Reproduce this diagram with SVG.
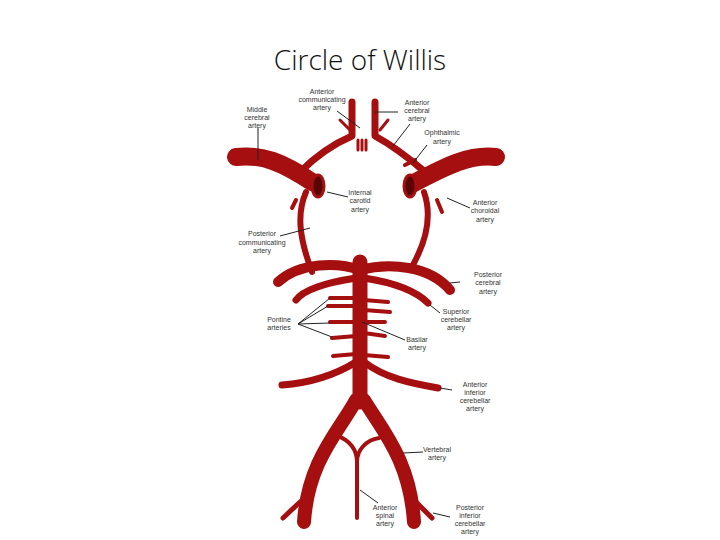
<svg xmlns="http://www.w3.org/2000/svg" width="720" height="540" viewBox="0 0 720 540">
<style>
.v{fill:none;stroke:#a50f0f;stroke-linecap:round;stroke-linejoin:round}
.l{fill:none;stroke:#222;stroke-width:1}
text{font-family:"Liberation Sans",Arial,sans-serif;font-size:7px;fill:#333;text-anchor:middle}
.t{font-family:"Open Sans","Liberation Sans",sans-serif;font-weight:300;font-size:28px;fill:#111}
</style>
<rect width="720" height="540" fill="#fff"/>
<text class="t" x="360" y="70">Circle of Willis</text>
<g id="vessels">
<path class="v" stroke-width="18" d="M236,157 C262,154 282,162 312,182"/>
<path class="v" stroke-width="18" d="M496,157 C470,154 448,165 412,184"/>
<path class="v" stroke-width="7" d="M300,172 C320,152 338,142 352,136 L352,102"/>
<path class="v" stroke-width="7" d="M425,172 C402,152 386,142 375,136 L375,102"/>
<path class="v" stroke-width="3" d="M340,120 L350,130 M388,120 L380,130 M358,140 L358,150 M362,140 L362,150 M366,140 L366,150"/>
<path class="v" stroke-width="4" d="M296,200 L292,208 M437,200 L442,212 M296,180 L305,172 M405,165 L415,160"/>
<ellipse cx="318" cy="186" rx="6" ry="11" fill="#5a0505" stroke="#a50f0f" stroke-width="3"/>
<ellipse cx="410" cy="186" rx="6" ry="11" fill="#5a0505" stroke="#a50f0f" stroke-width="3"/>
<path class="v" stroke-width="6" d="M312,272 C300,240 296,215 306,192"/>
<path class="v" stroke-width="6" d="M410,270 C428,240 432,215 424,192"/>
<path class="v" stroke-width="10" d="M360,270 C338,262 300,262 278,282"/>
<path class="v" stroke-width="10" d="M360,270 C390,262 430,266 450,290"/>
<path class="v" stroke-width="7" d="M356,278 C330,282 305,288 296,300"/>
<path class="v" stroke-width="7" d="M364,278 C390,282 415,290 428,303"/>
<path class="v" stroke-width="4" d="M356,298 L330,298 M356,306 L328,306 M356,322 L330,322 M356,336 L332,338 M356,354 L333,356"/>
<path class="v" stroke-width="4" d="M364,300 L388,302 M364,310 L390,312 M364,322 L385,322 M364,333 L385,336 M364,355 L388,357"/>
<path class="v" stroke-width="7" d="M356,362 C335,375 310,383 282,385"/>
<path class="v" stroke-width="7" d="M364,362 C385,378 410,383 438,388"/>
<path class="v" stroke-width="15" d="M360,262 L360,402"/>
<path class="v" stroke-width="14" d="M356,400 C340,430 308,460 304,522"/>
<path class="v" stroke-width="14" d="M364,400 C382,430 410,460 414,522"/>
<path class="v" stroke-width="4" d="M337,436 C350,440 357,450 357,462 L357,518 M379,438 C366,440 357,450 357,462"/>
<path class="v" stroke-width="5" d="M300,502 L283,518 M416,502 L432,518"/>
</g>
<g id="leaders">
<path class="l" d="M258,128 L258,160 M337,111 L360,128 M375,112 L398,112 M393,146 L410,124 M413,163 L427,145 M327,192 L348,197 M447,198 L470,208 M280,236 L310,228 M450,283 L460,282 M298,324 L330,298 M298,324 L328,306 M298,324 L330,323 M298,324 L332,337 M430,305 L440,313 M362,322 L405,340 M440,388 L452,390 M403,453 L423,452 M360,490 L378,503 M433,513 L450,517"/>
</g>
<g id="labels">
<text x="322" y="94">Anterior</text><text x="322" y="102">communicating</text><text x="322" y="110">artery</text>
<text x="257" y="112">Middle</text><text x="257" y="120">cerebral</text><text x="257" y="128">artery</text>
<text x="417" y="105">Anterior</text><text x="417" y="113">cerebral</text><text x="417" y="121">artery</text>
<text x="442" y="135">Ophthalmic</text><text x="442" y="144">artery</text>
<text x="360" y="195">Internal</text><text x="360" y="203">carotid</text><text x="360" y="212">artery</text>
<text x="485" y="205">Anterior</text><text x="485" y="213">choroidal</text><text x="485" y="222">artery</text>
<text x="262" y="236">Posterior</text><text x="262" y="245">communicating</text><text x="262" y="253">artery</text>
<text x="488" y="277">Posterior</text><text x="488" y="285">cerebral</text><text x="488" y="294">artery</text>
<text x="279" y="322">Pontine</text><text x="279" y="330">arteries</text>
<text x="456" y="314">Superior</text><text x="456" y="322">cerebellar</text><text x="456" y="330">artery</text>
<text x="417" y="342">Basilar</text><text x="417" y="350">artery</text>
<text x="475" y="387">Anterior</text><text x="475" y="395">inferior</text><text x="475" y="403">cerebellar</text><text x="475" y="411">artery</text>
<text x="437" y="452">Vertebral</text><text x="437" y="460">artery</text>
<text x="385" y="510">Anterior</text><text x="385" y="518">spinal</text><text x="385" y="526">artery</text>
<text x="470" y="510">Posterior</text><text x="470" y="518">inferior</text><text x="470" y="526">cerebellar</text><text x="470" y="534">artery</text>
</g>
</svg>
